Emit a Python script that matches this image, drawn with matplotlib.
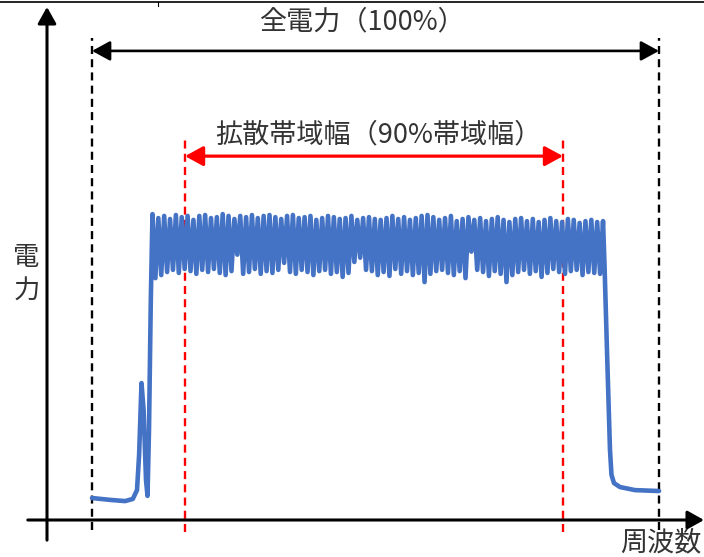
import matplotlib.pyplot as plt
import numpy as np
from matplotlib.lines import Line2D

plt.rcParams["font.family"] = ["Noto Sans CJK JP", "DejaVu Sans"]

# spectrum: frequency (arb. units), power (% of band level)
lead_freq = [7.5, 10.5, 13.0, 14.3, 15.0, 15.35, 15.75, 16.1, 16.5, 16.75, 17.0, 17.3]
lead_power = [7.2, 6.6, 6.2, 6.9, 9.8, 21.3, 44.9, 36.1, 13.1, 7.9, 29.5, 72.1]

band_start = 17.58
band_end = 92.67
band_peaks = [
    100.3, 99.0, 99.7, 98.7, 100.0, 99.3, 99.7, 98.4, 99.7, 100.0,
    99.0, 99.3, 100.3, 99.7, 98.7, 99.7, 99.3, 100.0, 99.0, 99.7,
    100.0, 99.3, 98.7, 99.7, 100.0, 99.0, 99.3, 99.7, 98.4, 99.0,
    99.7, 99.3, 98.7, 99.0, 99.7, 98.4, 99.0, 99.3, 98.7, 98.4,
    99.0, 99.7, 98.7, 99.3, 98.4, 99.0, 99.7, 100.0, 99.3, 98.4,
    99.0, 99.7, 98.0, 98.7, 99.3, 98.4, 99.0, 98.0, 98.7, 99.3,
    98.4, 97.7, 98.7, 99.0, 98.0, 98.7, 97.7, 98.4, 99.0, 98.0,
    97.7, 98.7, 98.4, 97.4, 98.0, 98.4, 97.7, 98.0,
]
band_troughs = [
    79.3, 80.3, 81.3, 82.0, 81.0, 82.3, 81.6, 80.7, 82.0, 81.3,
    82.3, 81.0, 80.3, 81.6, 87.0, 80.7, 81.3, 82.3, 80.7, 81.6,
    81.0, 82.0, 84.3, 81.3, 80.7, 82.0, 81.3, 80.3, 81.6, 82.0,
    80.7, 81.3, 79.7, 81.0, 84.6, 86.0, 82.0, 81.6, 80.3, 81.3,
    80.0, 82.3, 80.7, 81.6, 80.3, 81.0, 78.0, 80.7, 81.6, 82.0,
    81.0, 80.3, 81.6, 79.3, 88.0, 82.0, 81.3, 80.0, 81.6, 80.7,
    78.0, 80.3, 81.3, 82.0, 80.7, 81.6, 79.7, 81.0, 82.3, 81.3,
    80.7, 81.6, 82.0, 80.3, 81.3, 81.0, 80.7,
]

tail_freq = [92.92, 93.33, 93.83, 94.08, 94.5, 95.5, 98.0, 102.0]
tail_power = [83.6, 55.7, 23.0, 14.8, 12.1, 10.8, 9.8, 9.5]

full_band = (7.5, 102.0)     # 全電力 (100%)
spread_band = (23.0, 86.0)   # 拡散帯域幅 (90%)

label_full = "全電力（100%）"
label_spread = "拡散帯域幅（90%帯域幅）"
label_y = "電\n力"
label_x = "周波数"

BLUE = "#4472C4"
RED = "#FF0000"
TEXT = "#333333"

# interleave peaks and troughs on an even frequency grid
peak_f = np.linspace(band_start, band_end, len(band_peaks))
step = peak_f[1] - peak_f[0]
band_f = []
band_p = []
for i, pk in enumerate(band_peaks):
    band_f.append(peak_f[i])
    band_p.append(pk)
    if i < len(band_troughs):
        band_f.append(peak_f[i] + step / 2)
        band_p.append(band_troughs[i])

freq = np.concatenate([lead_freq, band_f, tail_freq])
power = np.concatenate([lead_power, band_p, tail_power])

fig = plt.figure(figsize=(7.04, 5.57), dpi=100)
ax = fig.add_axes([0, 0, 1, 1])
ax.set_xlim(-47 / 6, 657 / 6)
ax.set_ylim(-37 / 3.05, 520 / 3.05)
ax.axis("off")

# axes with arrow heads
axis_arrow = dict(arrowstyle="-|>,head_length=0.5,head_width=0.28",
                  color="black", lw=2.2, mutation_scale=20, shrinkA=0, shrinkB=0)
ax.annotate("", xy=(109.5, 0), xytext=(-3.2, 0), arrowprops=axis_arrow)
ax.annotate("", xy=(0, 168.2), xytext=(0, -6.6), arrowprops=axis_arrow)

# band boundaries
for f in full_band:
    ax.plot([f, f], [-3.3, 158.0], color="black", lw=1.7,
            linestyle=(0, (3.4, 2.2)))
for f in spread_band:
    ax.plot([f, f], [-3.9, 124.9], color=RED, lw=1.7,
            linestyle=(0, (3.4, 2.2)))

ax.plot(freq, power, color=BLUE, lw=3.3, solid_joinstyle="round",
        solid_capstyle="round")

# width arrows
ax.annotate("", xy=(spread_band[1], 119.3), xytext=(spread_band[0], 119.3),
            arrowprops=dict(arrowstyle="<|-|>,head_length=0.55,head_width=0.3",
                            color=RED, lw=2.3, mutation_scale=20,
                            shrinkA=0, shrinkB=0))
ax.annotate("", xy=(full_band[1], 153.8), xytext=(full_band[0], 153.8),
            arrowprops=dict(arrowstyle="<|-|>,head_length=0.55,head_width=0.3",
                            color="black", lw=1.9, mutation_scale=20,
                            shrinkA=0, shrinkB=0))

ax.text(52.5, 163.3, label_full, ha="center", va="center",
        fontsize=19.5, color=TEXT)
ax.text(55.2, 126.2, label_spread, ha="center", va="center",
        fontsize=19.5, color=TEXT)
ax.text(-3.4, 80.6, label_y, ha="center", va="center",
        fontsize=19, color=TEXT, linespacing=1.3)
ax.text(102.3, -7.6, label_x, ha="center", va="center",
        fontsize=19.5, color=TEXT)

# thin frame edge at the top of the picture
fig.add_artist(Line2D([0, 1], [1 - 2 / 557, 1 - 2 / 557],
                      transform=fig.transFigure, color="black", lw=1.2))
fig.add_artist(Line2D([158 / 704, 158 / 704], [1 - 2 / 557, 1 - 6 / 557],
                      transform=fig.transFigure, color="black", lw=0.8))

fig.savefig("out.png", dpi=100)
